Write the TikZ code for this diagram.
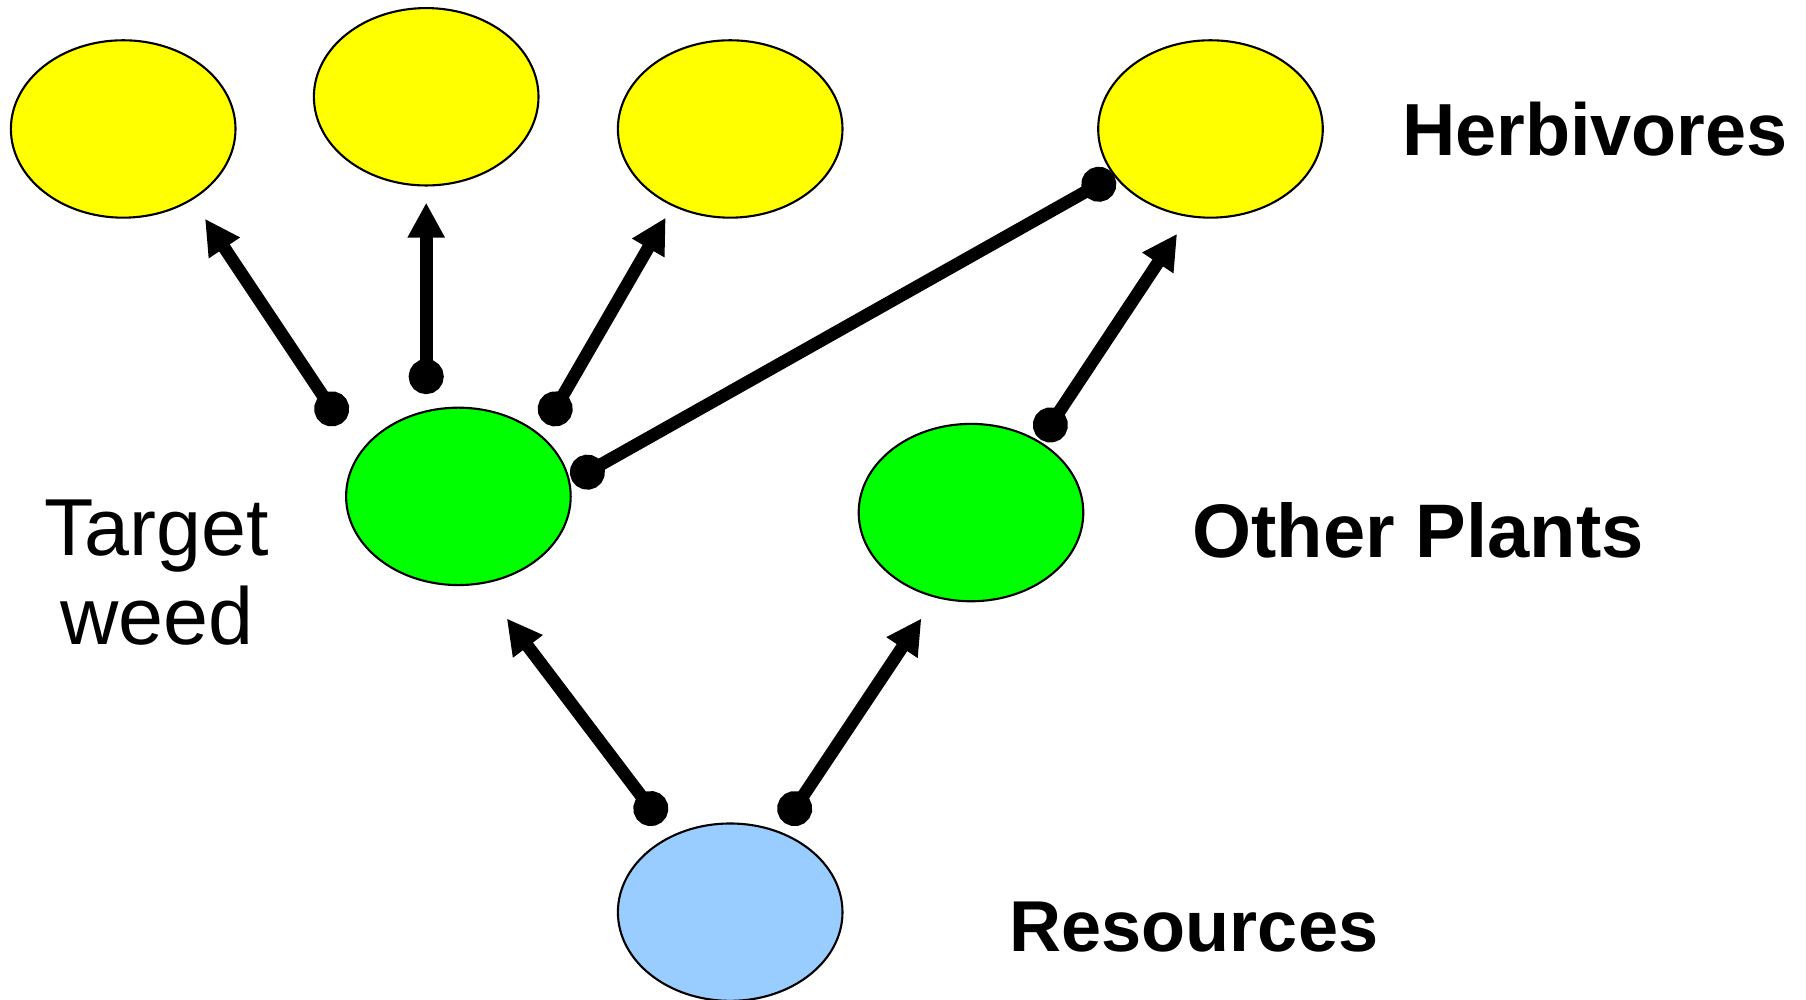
\documentclass[tikz,border=0pt]{standalone}
\usepackage{fontspec}
\setmainfont{Liberation Sans}
\usetikzlibrary{arrows.meta,shapes.geometric}
\definecolor{herbcol}{HTML}{FFFF00}
\definecolor{plantcol}{HTML}{00FF00}
\definecolor{rescol}{HTML}{99CCFF}
\begin{document}
\begin{tikzpicture}[
		blob/.style={ellipse,draw,line width=0.6pt,minimum width=2.246cm,minimum height=1.774cm,inner sep=0pt},
		link/.style={line width=3.6pt,{Circle[length=3.5mm]}-{Triangle[length=3.5mm,width=3.5mm]},shorten <=-1.75mm},
		tie/.style={line width=3.6pt,{Circle[length=3.5mm]}-{Circle[length=3.5mm]},shorten <=-1.75mm,shorten >=-1.75mm},
		lbl/.style={font=\fontsize{#1}{25}\selectfont\bfseries},
		lbl/.default=21
	]
		\useasboundingbox (0,0) rectangle (18.06,10);
		\foreach \n / \x / \y in {herb1/1.232/8.71,herb2/4.262/9.032,herb3/7.302/8.71,herb4/12.105/8.71} \node[blob,fill=herbcol] (\n) at (\x,\y) {};
		\node[blob,fill=plantcol] (weed) at (4.584,5.036) {};
		\node[blob,fill=plantcol] (other) at (9.71,4.874) {};
		\node[blob,fill=rescol] (res) at (7.302,0.878) {};
		\node[lbl] (herblabel) at (15.95,8.71) {Herbivores};
		\node[lbl=21.6] (otherlabel) at (14.18,4.70) {Other Plants};
		\node[lbl=20.5] (reslabel) at (11.94,0.728) {Resources};
		\node[font=\fontsize{23}{25.3}\selectfont,align=center] (weedlabel) at (1.568,4.27) {Target\\weed};
		% connector ends
		\coordinate (w1) at (3.317,5.911); \coordinate (h1) at (2.05,7.812);
		\coordinate (w2) at (4.262,6.234); \coordinate (h2) at (4.262,7.973);
		\coordinate (w3) at (5.552,5.911); \coordinate (h3) at (6.657,7.823);
		\coordinate (w4) at (5.874,5.278); \coordinate (h4) at (10.988,8.157);
		\coordinate (o1) at (10.504,5.75); \coordinate (h5) at (11.771,7.662);
		\coordinate (r1) at (6.508,1.914); \coordinate (w0) at (5.068,3.815);
		\coordinate (r2) at (7.947,1.914); \coordinate (o0) at (9.214,3.815);
		\foreach \a / \b in {w1/h1,w2/h2,w3/h3,o1/h5,r1/w0,r2/o0} \draw[link] (\a) -- (\b);
		\draw[tie] (w4) -- (h4);
	\end{tikzpicture}
\end{document}
